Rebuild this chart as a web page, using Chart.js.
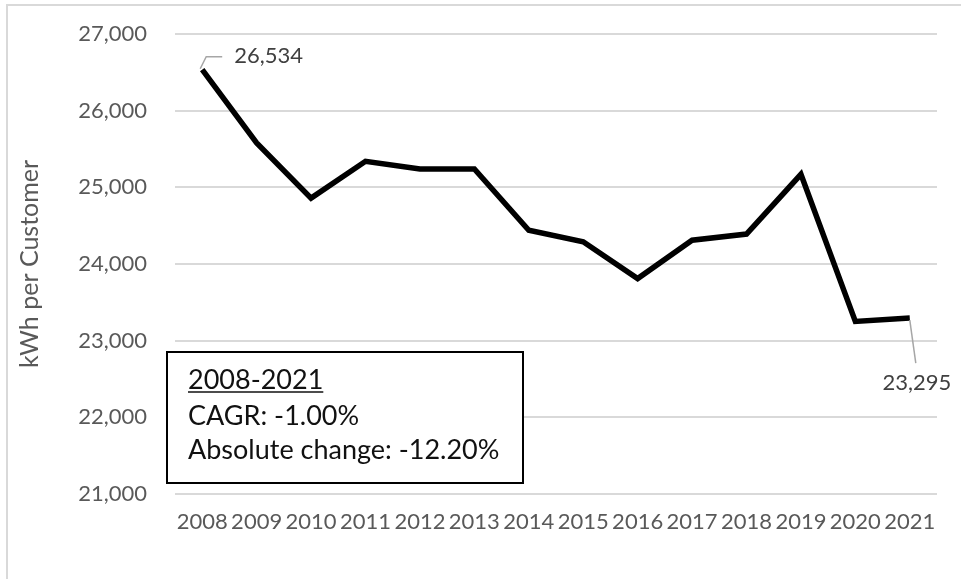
<!DOCTYPE html>
<html>
<head>
<meta charset="utf-8">
<script src="https://cdn.jsdelivr.net/npm/chart.js@4.4.1/dist/chart.umd.min.js"></script>
<style>
  html, body { margin: 0; padding: 0; background: #ffffff; }
  #wrap { position: relative; width: 961px; height: 579px; }
</style>
</head>
<body>
<div id="wrap"><canvas id="c" width="961" height="579"></canvas></div>
<script>
// Annual electricity use per customer
const years = ['2008', '2009', '2010', '2011', '2012', '2013', '2014',
               '2015', '2016', '2017', '2018', '2019', '2020', '2021'];
const kwhPerCustomer = [26534, 25580, 24860, 25340, 25240, 25240, 24440,
                        24290, 23810, 24310, 24390, 25170, 23250, 23295];
const yTickValues = [21000, 22000, 23000, 24000, 25000, 26000, 27000];
const summaryTitle = '2008-2021';
const summaryLines = ['CAGR: -1.00%', 'Absolute change: -12.20%'];

const FONT = 'Lato';
const fmt = v => v.toLocaleString('en-US');

// light frame along the top and left edges
const framePlugin = {
  id: 'frame',
  beforeDraw(chart) {
    const ctx = chart.ctx;
    ctx.save();
    ctx.strokeStyle = '#d9d9d9';
    ctx.lineWidth = 2;
    ctx.beginPath();
    ctx.moveTo(7, chart.height + 2);
    ctx.lineTo(7, 5);
    ctx.lineTo(chart.width + 2, 5);
    ctx.stroke();
    ctx.restore();
  }
};

// value callouts on the first and last points
const endLabelPlugin = {
  id: 'endLabels',
  afterDatasetsDraw(chart) {
    const ctx = chart.ctx;
    const meta = chart.getDatasetMeta(0);
    const data = chart.data.datasets[0].data;
    const n = data.length;
    ctx.save();
    ctx.font = '22px ' + FONT;
    ctx.fillStyle = '#404040';
    ctx.strokeStyle = '#a6a6a6';
    ctx.lineWidth = 1.5;

    const p = meta.data[0];
    ctx.beginPath();
    ctx.moveTo(p.x - 2, p.y - 1);
    ctx.lineTo(p.x + 4, p.y - 13);
    ctx.lineTo(p.x + 20, p.y - 13);
    ctx.stroke();
    ctx.textAlign = 'left';
    ctx.textBaseline = 'middle';
    ctx.fillText(fmt(data[0]), p.x + 32, p.y - 14);

    const q = meta.data[n - 1];
    ctx.beginPath();
    ctx.moveTo(q.x, q.y + 2);
    ctx.lineTo(q.x + 6, q.y + 45);
    ctx.stroke();
    ctx.textAlign = 'center';
    ctx.fillText(fmt(data[n - 1]), q.x + 7, q.y + 65);
    ctx.restore();
  }
};

// summary box in the lower-left of the plot
const summaryPlugin = {
  id: 'summary',
  afterDraw(chart) {
    const ctx = chart.ctx;
    const x = 167, y = 352, w = 356, h = 131;
    ctx.save();
    ctx.fillStyle = '#ffffff';
    ctx.fillRect(x, y, w, h);
    ctx.strokeStyle = '#000000';
    ctx.lineWidth = 2;
    ctx.strokeRect(x, y, w, h);

    ctx.fillStyle = '#111111';
    ctx.font = '27px ' + FONT;
    ctx.textAlign = 'left';
    ctx.textBaseline = 'alphabetic';
    const tx = x + 21;
    ctx.fillText(summaryTitle, tx, y + 37);
    const tw = ctx.measureText(summaryTitle).width;
    ctx.strokeStyle = '#111111';
    ctx.lineWidth = 1.5;
    ctx.beginPath();
    ctx.moveTo(tx, y + 40);
    ctx.lineTo(tx + tw, y + 40);
    ctx.stroke();
    ctx.fillText(summaryLines[0], tx, y + 73);
    ctx.fillText(summaryLines[1], tx, y + 107);
    ctx.restore();
  }
};

function draw() {
  new Chart(document.getElementById('c'), {
    type: 'line',
    data: {
      labels: years,
      datasets: [{
        data: kwhPerCustomer,
        borderColor: '#000000',
        borderWidth: 5.5,
        pointRadius: 0,
        tension: 0,
        fill: false
      }]
    },
    options: {
      responsive: false,
      animation: false,
      events: [],
      layout: { padding: { left: 7, top: 34, right: 24, bottom: 0 } },
      plugins: {
        legend: { display: false },
        tooltip: { enabled: false }
      },
      scales: {
        x: {
          offset: true,
          grid: { display: false, drawTicks: false },
          border: { display: false },
          ticks: {
            color: '#595959',
            font: { family: FONT, size: 22 },
            padding: 15,
            autoSkip: false,
            maxRotation: 0,
            minRotation: 0
          },
          afterFit(scale) { scale.height = 85; }
        },
        y: {
          min: 21000,
          max: 27000,
          afterBuildTicks(scale) { scale.ticks = yTickValues.map(v => ({ value: v })); },
          grid: { color: '#d9d9d9', lineWidth: 2, drawTicks: false },
          border: { display: false },
          ticks: {
            color: '#595959',
            font: { family: FONT, size: 22 },
            padding: 28,
            callback: v => fmt(v)
          },
          title: {
            display: true,
            text: 'kWh per Customer',
            color: '#595959',
            font: { family: FONT, size: 25 },
            padding: { top: 8, bottom: 0 }
          },
          afterFit(scale) {
            scale.width = 168;
            // the horizontal label gap should not push the plot down
            scale.paddingTop = 0;
            scale.paddingBottom = 0;
          }
        }
      }
    },
    plugins: [framePlugin, endLabelPlugin, summaryPlugin]
  });
}

if (document.fonts && document.fonts.load) {
  Promise.all([document.fonts.load('22px Lato'), document.fonts.load('27px Lato')])
    .then(draw, draw);
} else {
  draw();
}
</script>
</body>
</html>
